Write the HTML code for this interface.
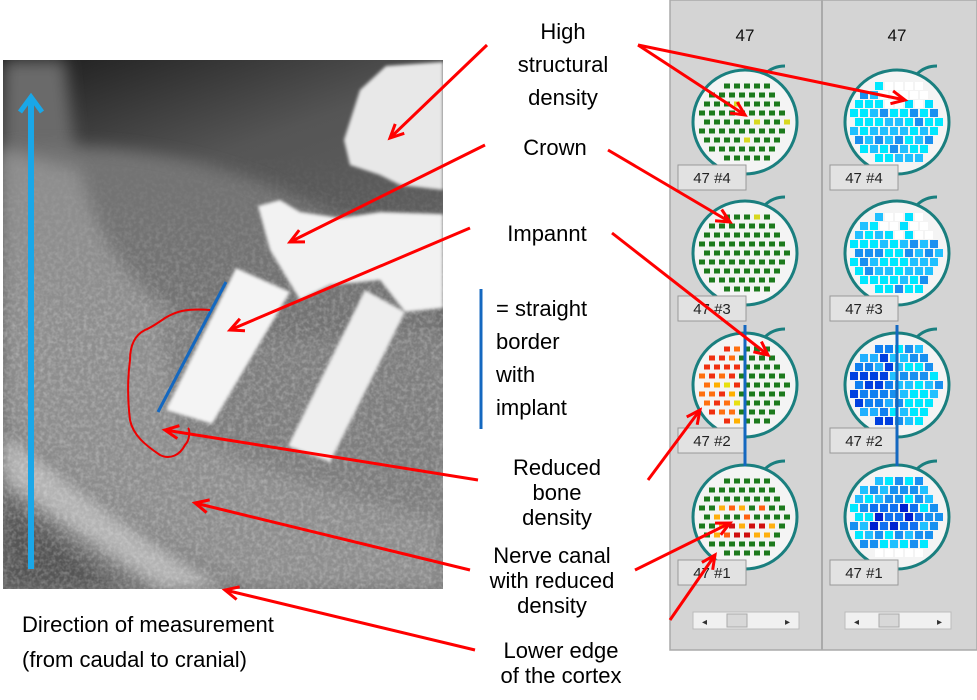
<!DOCTYPE html>
<html><head><meta charset="utf-8"><style>
html,body{margin:0;padding:0;background:#fff}
body{width:977px;height:700px;overflow:hidden;position:relative;font-family:"Liberation Sans",Arial,sans-serif}
</style></head><body>
<svg id="s" width="977" height="700" viewBox="0 0 977 700" xmlns="http://www.w3.org/2000/svg" style="position:absolute;left:0;top:0">
<defs>
<linearGradient id="bg" x1="0" y1="0" x2="0.3" y2="1">
<stop offset="0" stop-color="#1c1c1c"/><stop offset="0.3" stop-color="#555"/><stop offset="1" stop-color="#707070"/>
</linearGradient>
<linearGradient id="mg" x1="0" y1="0" x2="0" y2="1">
<stop offset="0" stop-color="#000"/><stop offset="0.4" stop-color="#fff"/><stop offset="1" stop-color="#fff"/>
</linearGradient>
<mask id="nm"><rect x="3" y="150" width="440" height="439" fill="url(#mg)"/></mask>
<filter id="bl"><feGaussianBlur stdDeviation="8"/></filter>
<filter id="bl2"><feGaussianBlur stdDeviation="1.5"/></filter>
<filter id="noise"><feTurbulence type="fractalNoise" baseFrequency="0.25" numOctaves="2" seed="4"/><feColorMatrix type="matrix" values="0 0 0 0 1  0 0 0 0 1  0 0 0 0 1  0 0 0 1.2 -0.45"/></filter>
<clipPath id="xc"><rect x="3" y="60" width="440" height="529"/></clipPath>
</defs>
<g clip-path="url(#xc)">
<rect x="3" y="60" width="440" height="529" fill="url(#bg)"/>
<path d="M3,60 L65,60 L80,200 L3,230Z" fill="#6a6a6a" filter="url(#bl)"/>
<path d="M3,150 C80,140 200,150 300,200 L443,260 L443,589 L3,589Z" fill="#737373" filter="url(#bl)"/>
<path d="M3,150 L80,170 C110,300 200,330 260,360 L443,340 L443,589 L250,589 C150,540 60,470 3,420Z" fill="#8e8e8e" filter="url(#bl)"/>
<path d="M3,430 C80,490 160,550 230,589 L160,589 C100,550 40,510 3,480Z" fill="#b4b4b4" filter="url(#bl)"/>
<path d="M160,320 C220,330 300,350 443,330 L443,520 C350,500 250,470 180,430Z" fill="#7e7e7e" filter="url(#bl)"/>
<path d="M3,500 L120,589 L3,589Z" fill="#555" filter="url(#bl)"/>
<rect x="3" y="150" width="440" height="439" filter="url(#noise)" opacity="0.45" mask="url(#nm)"/>
<path d="M344,140 L360,90 L386,66 L443,62 L443,190 L400,185 L380,175 L350,165Z" fill="#e8e8e8" filter="url(#bl2)"/>
<path d="M258,206 L280,200 L300,212 L340,218 L380,212 L443,214 L443,308 L405,312 L380,280 L330,285 L300,300 L270,250Z" fill="#f2f2f2" filter="url(#bl2)"/>
<path d="M236,268 L290,292 L212,424 L166,410Z" fill="#f4f4f4" filter="url(#bl2)"/>
<path d="M365,290 L405,312 L330,462 L288,446Z" fill="#eeeeee" filter="url(#bl2)"/>
</g>
<line x1="31" y1="569" x2="31" y2="100" stroke="#1aa7e8" stroke-width="6"/>
<polyline points="20,112 31,97 42,112" fill="none" stroke="#1aa7e8" stroke-width="5"/>
<line x1="158" y1="412" x2="226" y2="282" stroke="#1468c0" stroke-width="3"/>
<line x1="481" y1="289" x2="481" y2="429" stroke="#1468c0" stroke-width="3"/>
<path d="M210,310 C185,308 175,312 165,318 C155,325 150,328 145,330 C135,335 130,345 130,360 C128,375 127,395 130,420 C133,435 145,445 160,455 C170,460 180,455 185,445 C190,440 190,430 188,428" fill="none" stroke="#e00" stroke-width="2"/>
<rect x="670" y="0" width="307" height="650" fill="#d4d4d4"/>
<rect x="670" y="0" width="307" height="650" fill="none" stroke="#aaa" stroke-width="1.5"/>
<line x1="822" y1="0" x2="822" y2="650" stroke="#aaa" stroke-width="2"/>
<g id="panels"></g>
<g font-family="Liberation Sans, Arial, sans-serif" font-size="22" fill="#000" text-anchor="middle">
<text x="563" y="39">High</text><text x="563" y="72">structural</text><text x="563" y="105">density</text>
<text x="555" y="155">Crown</text>
<text x="547" y="241">Impannt</text>
<text x="557" y="475">Reduced</text><text x="557" y="500">bone</text><text x="557" y="525">density</text>
<text x="552" y="563">Nerve canal</text><text x="552" y="588">with reduced</text><text x="552" y="613">density</text>
<text x="561" y="658">Lower edge</text><text x="561" y="683">of the cortex</text>
</g>
<g font-family="Liberation Sans, Arial, sans-serif" font-size="22" fill="#000">
<text x="496" y="316">= straight</text><text x="496" y="349">border</text><text x="496" y="382">with</text><text x="496" y="415">implant</text>
<text x="22" y="632">Direction of measurement</text><text x="22" y="667">(from caudal to cranial)</text>
</g>
<g id="arrows" stroke="#f00" stroke-width="3" fill="none"></g>
</svg>
<script>
var NS="http://www.w3.org/2000/svg";
function el(t,a,p){var e=document.createElementNS(NS,t);for(var k in a)e.setAttribute(k,a[k]);(p||document.getElementById('panels')).appendChild(e);return e;}
var rows=[122,253,385,517],labels=["47 #4","47 #3","47 #2","47 #1"];
var seed=3;function rnd(){seed=(seed*9301+49297)%233280;return seed/233280;}
[745,897].forEach(function(cx,pi){
 el('text',{x:cx,y:41,'font-size':17,'text-anchor':'middle','font-family':'Liberation Sans, Arial, sans-serif',fill:'#111'}).textContent='47';
 rows.forEach(function(cy,ri){
  el('circle',{cx:cx,cy:cy,r:52,fill:'#f4f4f4',stroke:'#1a7f7f','stroke-width':3});
  el('path',{d:'M'+(cx+20)+','+(cy-48)+' q8,-8 20,-8',stroke:'#1a7f7f','stroke-width':3,fill:'none'});
  for(var y=cy-45;y<cy+45;y+=9){for(var x=cx-48;x<cx+48;x+=10){
   var xx=x+((y-cy)/9%2?5:0);var dx=xx-cx,dy=y-cy;if(dx*dx+dy*dy>44*44)continue;
   var c;
   if(pi==0){c='#1e7a1e';
     if(ri==2&&dx<-5){var v=rnd();c=v<0.4?'#f03010':v<0.7?'#ff7010':v<0.85?'#ffb000':'#e8e010';}
     if(ri==3&&Math.abs(dy-5)<18&&Math.abs(dx)<30&&rnd()<0.8){var v=rnd();c=v<0.3?'#d01010':v<0.6?'#ff6010':'#ffb010';}
     if(ri<2&&rnd()<0.04)c='#d8d820';
     el('rect',{x:xx-3,y:y-2.5,width:6,height:5,fill:c});
   } else {
     var v=rnd();
     if(ri<2&&dy<-15&&dx>-15){c=v<0.7?'#ffffff':'#00e0ff';}
     else if(ri==2&&dx<-3){c=v<0.4?'#0040e0':v<0.8?'#1080f0':'#20b0ff';}
     else if(ri==3&&Math.abs(dy)<15&&Math.abs(dx)<25){c=v<0.4?'#0020d0':'#1070f0';}
     else if(ri==3&&dy>30){c='#ffffff';}
     else c=v<0.4?'#00e8ff':v<0.75?'#20c0ff':'#1890f0';
     el('rect',{x:xx-4,y:y-4,width:8,height:8,fill:c});
   }
  }}
  var bx=cx-67,by=cy+43;
  el('rect',{x:bx,y:by,width:68,height:25,fill:'#e2e2e2',stroke:'#999','stroke-width':1});
  el('text',{x:bx+34,y:by+18,'font-size':15,'text-anchor':'middle','font-family':'Liberation Sans, Arial, sans-serif',fill:'#222'}).textContent=labels[ri];
 });
 el('rect',{x:cx-52,y:612,width:106,height:17,fill:'#f0f0f0',stroke:'#bbb'});
 el('rect',{x:cx-18,y:614,width:20,height:13,fill:'#d8d8d8',stroke:'#aaa'});
 el('text',{x:cx-43,y:625,'font-size':10,fill:'#333'}).textContent='◂';
 el('text',{x:cx+40,y:625,'font-size':10,fill:'#333'}).textContent='▸';
});
[745,897].forEach(function(x){el('line',{x1:x,y1:325,x2:x,y2:466,stroke:'#1468c0','stroke-width':3});});
var A=[[487,45,390,138],[638,45,745,115],[638,45,905,100],[485,145,290,242],[608,150,730,222],[470,228,230,330],[612,233,768,355],[478,480,165,430],[648,480,700,410],[470,570,195,503],[635,570,730,523],[475,650,225,590],[670,620,715,555]];
var g=document.getElementById('arrows');
A.forEach(function(a){
 el('line',{x1:a[0],y1:a[1],x2:a[2],y2:a[3]},g);
 var ang=Math.atan2(a[3]-a[1],a[2]-a[0]),L=15,w=0.45;
 var p1=[a[2]-L*Math.cos(ang-w),a[3]-L*Math.sin(ang-w)],p2=[a[2]-L*Math.cos(ang+w),a[3]-L*Math.sin(ang+w)];
 el('polyline',{points:p1.join(',')+' '+a[2]+','+a[3]+' '+p2.join(',')},g);
});
</script>
</body></html>
